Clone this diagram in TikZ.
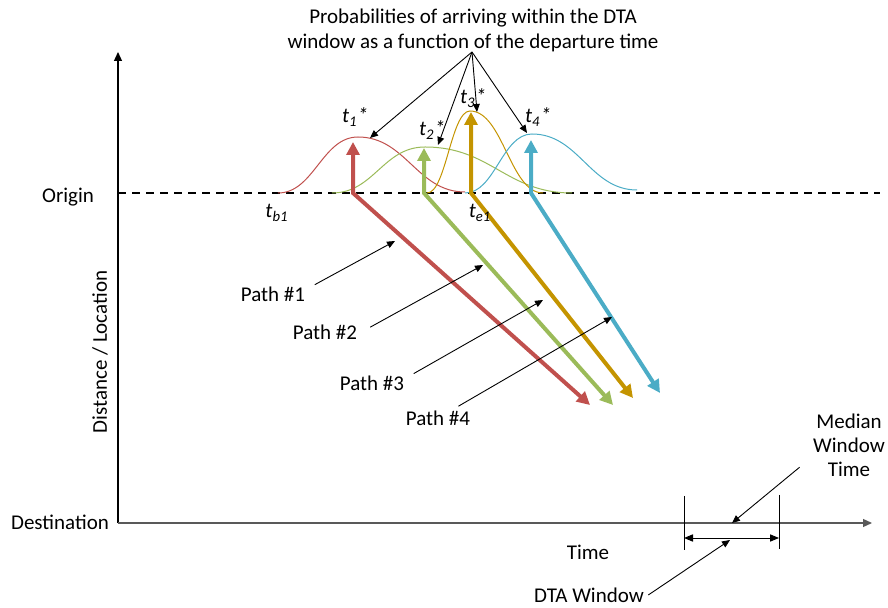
\documentclass[tikz,border=0pt]{standalone}
\usepackage{fontspec}
\setmainfont{Carlito}
\usetikzlibrary{arrows.meta}
\definecolor{pathred}{RGB}{192,80,77}
\definecolor{pathgreen}{RGB}{155,187,89}
\definecolor{pathgold}{RGB}{196,148,0}
\definecolor{pathblue}{RGB}{75,172,198}
\tikzset{
  thickpath/.style = {line width = 2pt, line join = miter,
    {Triangle[length=6.5pt,width=6.5pt]}-{Triangle[length=6.5pt,width=6.5pt]}},
  bell/.style = {line width = 0.5pt},
  callout/.style = {line width = 0.45pt, -{Triangle[length=4pt,width=3.4pt]}},
  lbl/.style = {inner sep = 2pt, font = \fontsize{10.5}{12}\selectfont},
}
\begin{document}
\begin{tikzpicture}[x = 0.5pt, y = -0.5pt]
\useasboundingbox (0,0) rectangle (888,608);
\draw [color = black, line width = 0.6pt, -{Triangle[length=4.5pt,width=4pt]}] (118,523) -- (118,52);
\draw [color = black!65, line width = 0.6pt, -{Triangle[length=4.5pt,width=4pt]}] (118,523) -- (872,523);
\draw [color = black, line width = 0.55pt, dash pattern = on 4pt off 3pt] (118,193) -- (880,193);
\node [lbl] (O) at (68,197) {Origin};
\node [lbl] (D) at (60,522) {Destination};
\node [lbl, rotate = 90] (Y) at (100,352) {Distance / Location};
\node [lbl] (X) at (588,552) {Time};
\node [lbl, align = center, font = \fontsize{10.5}{12.5}\selectfont] (Q) at (473,30) {Probabilities of arriving within the DTA\\window as a function of the departure time};
\draw [bell, color = pathred] (278,193) .. controls (314,193) and (322,137) .. (358,137) .. controls (406,137) and (417,192) .. (465,192);
\draw [bell, color = pathgreen] (332,193) .. controls (374,193) and (383,147) .. (425,147) .. controls (491,147) and (506,193) .. (572,193);
\draw [bell, color = pathgold] (427,193) .. controls (446,193) and (451,111) .. (470,111) .. controls (503,111) and (510,193) .. (543,193);
\draw [bell, color = pathblue] (465,193) .. controls (495,193) and (502,134) .. (532,134) .. controls (579,134) and (590,190) .. (637,190);
\draw [thickpath, color = pathred] (353,142) -- (353,193) -- (590,405);
\draw [thickpath, color = pathgreen] (424,148) -- (424,193) -- (613,405);
\draw [thickpath, color = pathgold] (471,112) -- (471,193) -- (633,398);
\draw [thickpath, color = pathblue] (531,140) -- (531,193) -- (660,393);
\node [lbl] (T1) at (355,117) {\itshape t\textsubscript{1}*};
\node [lbl] (T2) at (432,130) {\itshape t\textsubscript{2}*};
\node [lbl] (T3) at (473,98) {\itshape t\textsubscript{3}*};
\node [lbl] (T4) at (538,117) {\itshape t\textsubscript{4}*};
\node [lbl] (B1) at (277,213) {\itshape t\textsubscript{b1}};
\node [lbl] (E1) at (480,213) {\itshape t\textsubscript{e1}};
\coordinate (F) at (472,52);
\coordinate (S1) at (370,138);
\coordinate (S2) at (438,145);
\coordinate (S3) at (477,112);
\coordinate (S4) at (527,133);
\draw [callout] (F) -- (S1);
\draw [callout] (F) -- (S2);
\draw [callout] (F) -- (S3);
\draw [callout] (F) -- (S4);
\node [lbl] (L1) at (273,294) {Path \#1};
\node [lbl] (L2) at (325,332) {Path \#2};
\node [lbl] (L3) at (372,383) {Path \#3};
\node [lbl] (L4) at (438,418) {Path \#4};
\coordinate (A1) at (395,241);
\coordinate (A2) at (483,265);
\coordinate (A3) at (543,300);
\coordinate (A4) at (612,317);
\draw [callout, shorten <= 3pt] (L1.10) -- (A1);
\draw [callout, shorten <= 5pt] (L2.east) -- (A2);
\draw [callout, shorten <= 3pt] (L3.10) -- (A3);
\draw [callout] (L4.30) -- (A4);
\draw [line width = 0.5pt] (684,496) -- (684,550);
\draw [line width = 0.5pt] (779,495) -- (779,549);
\coordinate (W1) at (684,538);
\coordinate (W2) at (779,538);
\draw [line width = 0.5pt, {Triangle[length=4.5pt,width=3.6pt]}-{Triangle[length=4.5pt,width=3.6pt]}] (W1) -- (W2);
\node [lbl, align = center] (M) at (849,445) {Median\\Window\\Time};
\node [lbl] (W) at (589,595) {DTA Window};
\coordinate (M1) at (732,523);
\coordinate (M2) at (730,540);
\draw [callout, shorten <= 6pt] (M.200) -- (M1);
\draw [callout] (W.east) -- (M2);
\end{tikzpicture}
\end{document}
